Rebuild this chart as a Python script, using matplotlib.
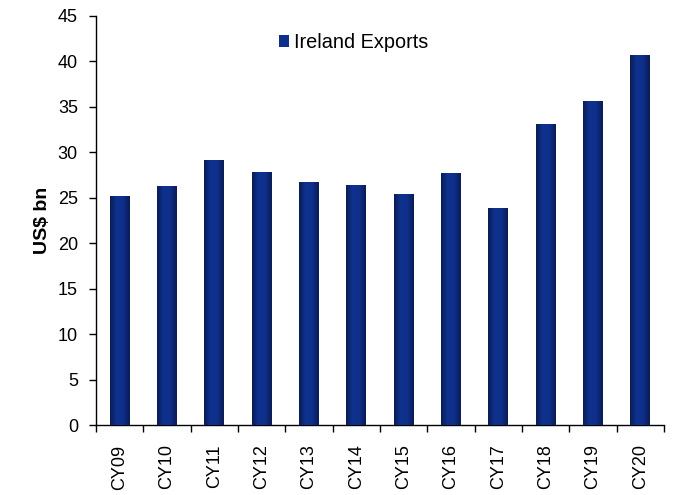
import numpy as np
import matplotlib
matplotlib.use("Agg")
import matplotlib.pyplot as plt
import matplotlib.colors as mcolors
from matplotlib.patches import Patch

plt.rcParams['font.family'] = ['Liberation Sans', 'DejaVu Sans']

years = ["CY09", "CY10", "CY11", "CY12", "CY13", "CY14", "CY15", "CY16",
         "CY17", "CY18", "CY19", "CY20"]
exports = [25.2, 26.3, 29.2, 27.8, 26.7, 26.4, 25.4, 27.75, 23.9, 33.1, 35.7, 40.7]

bar_color = "#0e2f8a"
edge_dark = "#0a1c55"

fig = plt.figure(figsize=(6.73, 4.95), dpi=100)
ax = fig.add_axes([0.1426, 0.1414, 0.8440, 0.8263])

x = np.arange(len(years))
bars = ax.bar(x, exports, width=0.42, color=bar_color, zorder=2)

# horizontal shading on each bar: dark edges, lighter centre
cmap = mcolors.LinearSegmentedColormap.from_list(
    "barshade", [edge_dark, "#0f3290", "#0e2f8a", edge_dark])
grad = np.linspace(0, 1, 64).reshape(1, -1)
for b in bars:
    x0, w, h = b.get_x(), b.get_width(), b.get_height()
    im = ax.imshow(grad, extent=[x0, x0 + w, 0, h], cmap=cmap,
                   aspect="auto", zorder=3, interpolation="bilinear")
    im.set_clip_path(b)

ax.set_xlim(-0.5, len(years) - 0.5)
ax.set_ylim(0, 45)
ax.set_yticks(np.arange(0, 46, 5))
ax.set_xticks(np.arange(-0.5, len(years), 1.0))
ax.set_xticklabels([])
ax.set_xticks(x, minor=True)
ax.set_xticklabels(years, minor=True, rotation=90, fontsize=13)
ax.tick_params(axis="x", which="minor", length=0, pad=14)
ax.tick_params(axis="x", which="major", direction="out", length=5, width=1)
ax.tick_params(axis="y", direction="out", length=5, width=1, labelsize=13, pad=8)

ax.spines["top"].set_visible(False)
ax.spines["right"].set_visible(False)
ax.spines["left"].set_linewidth(1)
ax.spines["bottom"].set_linewidth(1)

ax.set_ylabel("US$ bn", fontsize=14, fontweight="bold", labelpad=5)

handle = Patch(facecolor=bar_color, edgecolor="none")
ax.legend([handle], ["Ireland Exports"], loc="upper left",
          bbox_to_anchor=(0.29, 1.003), frameon=False, fontsize=14.3,
          handlelength=0.55, handleheight=0.55, handletextpad=0.25)

fig.savefig("out.png", dpi=100)
